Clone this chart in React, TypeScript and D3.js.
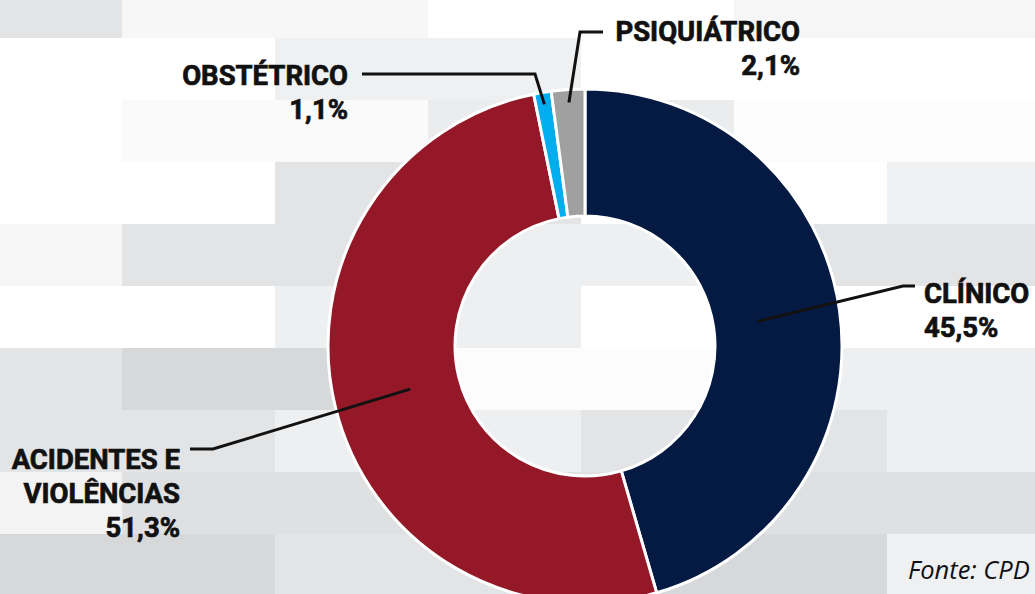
import React from "react";
import * as d3 from "d3";

// chart data
const categories = ["CLÍNICO", "ACIDENTES E VIOLÊNCIAS", "OBSTÉTRICO", "PSIQUIÁTRICO"];
const values = [45.5, 51.3, 1.1, 2.1];
const valueLabels = ["45,5%", "51,3%", "1,1%", "2,1%"];
const colors = ["#041a42", "#941827", "#00aeef", "#a0a0a0"];

// label lines (category name split as in the picture)
const labelLines = [["CLÍNICO"], ["ACIDENTES E", "VIOLÊNCIAS"], ["OBSTÉTRICO"], ["PSIQUIÁTRICO"]];

// background brick rows (even rows start at 122, odd rows at 275)
const brickRows = [
  ["#e3e4e6", "#f7f7f7", "#ffffff", "#f6f6f6"],
  ["#ffffff", "#eff0f1", "#ffffff", "#ffffff"],
  ["#ffffff", "#fafafa", "#ebeced", "#fcfcfc"],
  ["#ffffff", "#e3e4e6", "#ffffff", "#eff0f1"],
  ["#f6f6f6", "#e3e4e6", "#eeeff0", "#e3e4e6"],
  ["#ffffff", "#eeeff0", "#ffffff", "#ffffff"],
  ["#e3e4e6", "#d7d8da", "#fcfcfc", "#eeeff0"],
  ["#e3e4e6", "#eeeff0", "#e3e4e6", "#eeeff0"],
  ["#f3f3f3", "#dfe0e2", "#dfe0e2", "#dfe0e2"],
  ["#d7d8da", "#e3e4e6", "#d7d8da", "#eff0f1"],
];

const width = 1035;
const height = 594;
const cx = 585;
const cy = 346;
const outerR = 257;
const innerR = 130;

// leader line / label layout
const layout = [
  { anchor: "start", x: 924, y: 303, r: 174, elbowX: 903, lineY: 286, endX: 915 },
  { anchor: "end", x: 180, y: 469, r: 180, elbowX: 213, lineY: 449, endX: 190 },
  { anchor: "end", x: 348, y: 85, r: 245, elbowX: 535, lineY: 74, endX: 362 },
  { anchor: "end", x: 800, y: 41, r: 244, elbowX: 580, lineY: 32, endX: 603 },
];

export default function App() {
  const pie = d3.pie<number>().sort(null).value((d) => d);
  const arcs = pie(values);
  const arc = d3.arc<d3.PieArcDatum<number>>().innerRadius(innerR).outerRadius(outerR);
  const line = d3.line();

  const brickW = 306;
  const rowH = 62;

  return (
    <svg
      width={width}
      height={height}
      style={{ position: "absolute", left: 0, top: 0, display: "block" }}
    >
      <rect width={width} height={height} fill="#ffffff" />
      {brickRows.map((row, i) =>
        row.map((c, j) => {
          const offset = i % 2 === 0 ? 122 - brickW : 275 - brickW;
          return (
            <rect
              key={`${i}-${j}`}
              x={offset + j * brickW}
              y={-24 + i * rowH}
              width={brickW}
              height={rowH}
              fill={c}
            />
          );
        })
      )}

      <g transform={`translate(${cx},${cy})`}>
        {arcs.map((a, i) => (
          <path key={categories[i]} d={arc(a) || ""} fill={colors[i]} stroke="#ffffff" strokeWidth={3} />
        ))}
      </g>

      {arcs.map((a, i) => {
        const L = layout[i];
        const p = d3.arc<d3.PieArcDatum<number>>().innerRadius(L.r).outerRadius(L.r).centroid(a);
        const pts: [number, number][] = [
          [cx + p[0], cy + p[1]],
          [L.elbowX, L.lineY],
          [L.endX, L.lineY],
        ];
        return (
          <path key={`l-${i}`} d={line(pts) || ""} fill="none" stroke="#111" strokeWidth={3} />
        );
      })}

      {layout.map((L, i) => {
        const lines = [...labelLines[i], valueLabels[i]];
        return (
          <text
            key={`t-${i}`}
            x={L.x}
            y={L.y}
            textAnchor={L.anchor}
            fontFamily="Roboto, sans-serif"
            fontWeight={700}
            fontSize={27.5}
            fill="#111"
            stroke="#111"
            strokeWidth={0.7}
          >
            {lines.map((s, k) => (
              <tspan key={k} x={L.x} dy={k === 0 ? 0 : 34}>
                {s}
              </tspan>
            ))}
          </text>
        );
      })}

      <text x={908} y={579} fontFamily="'Open Sans', sans-serif" fontStyle="italic" fontSize={25.5} fill="#111">
        Fonte: CPD
      </text>
    </svg>
  );
}
